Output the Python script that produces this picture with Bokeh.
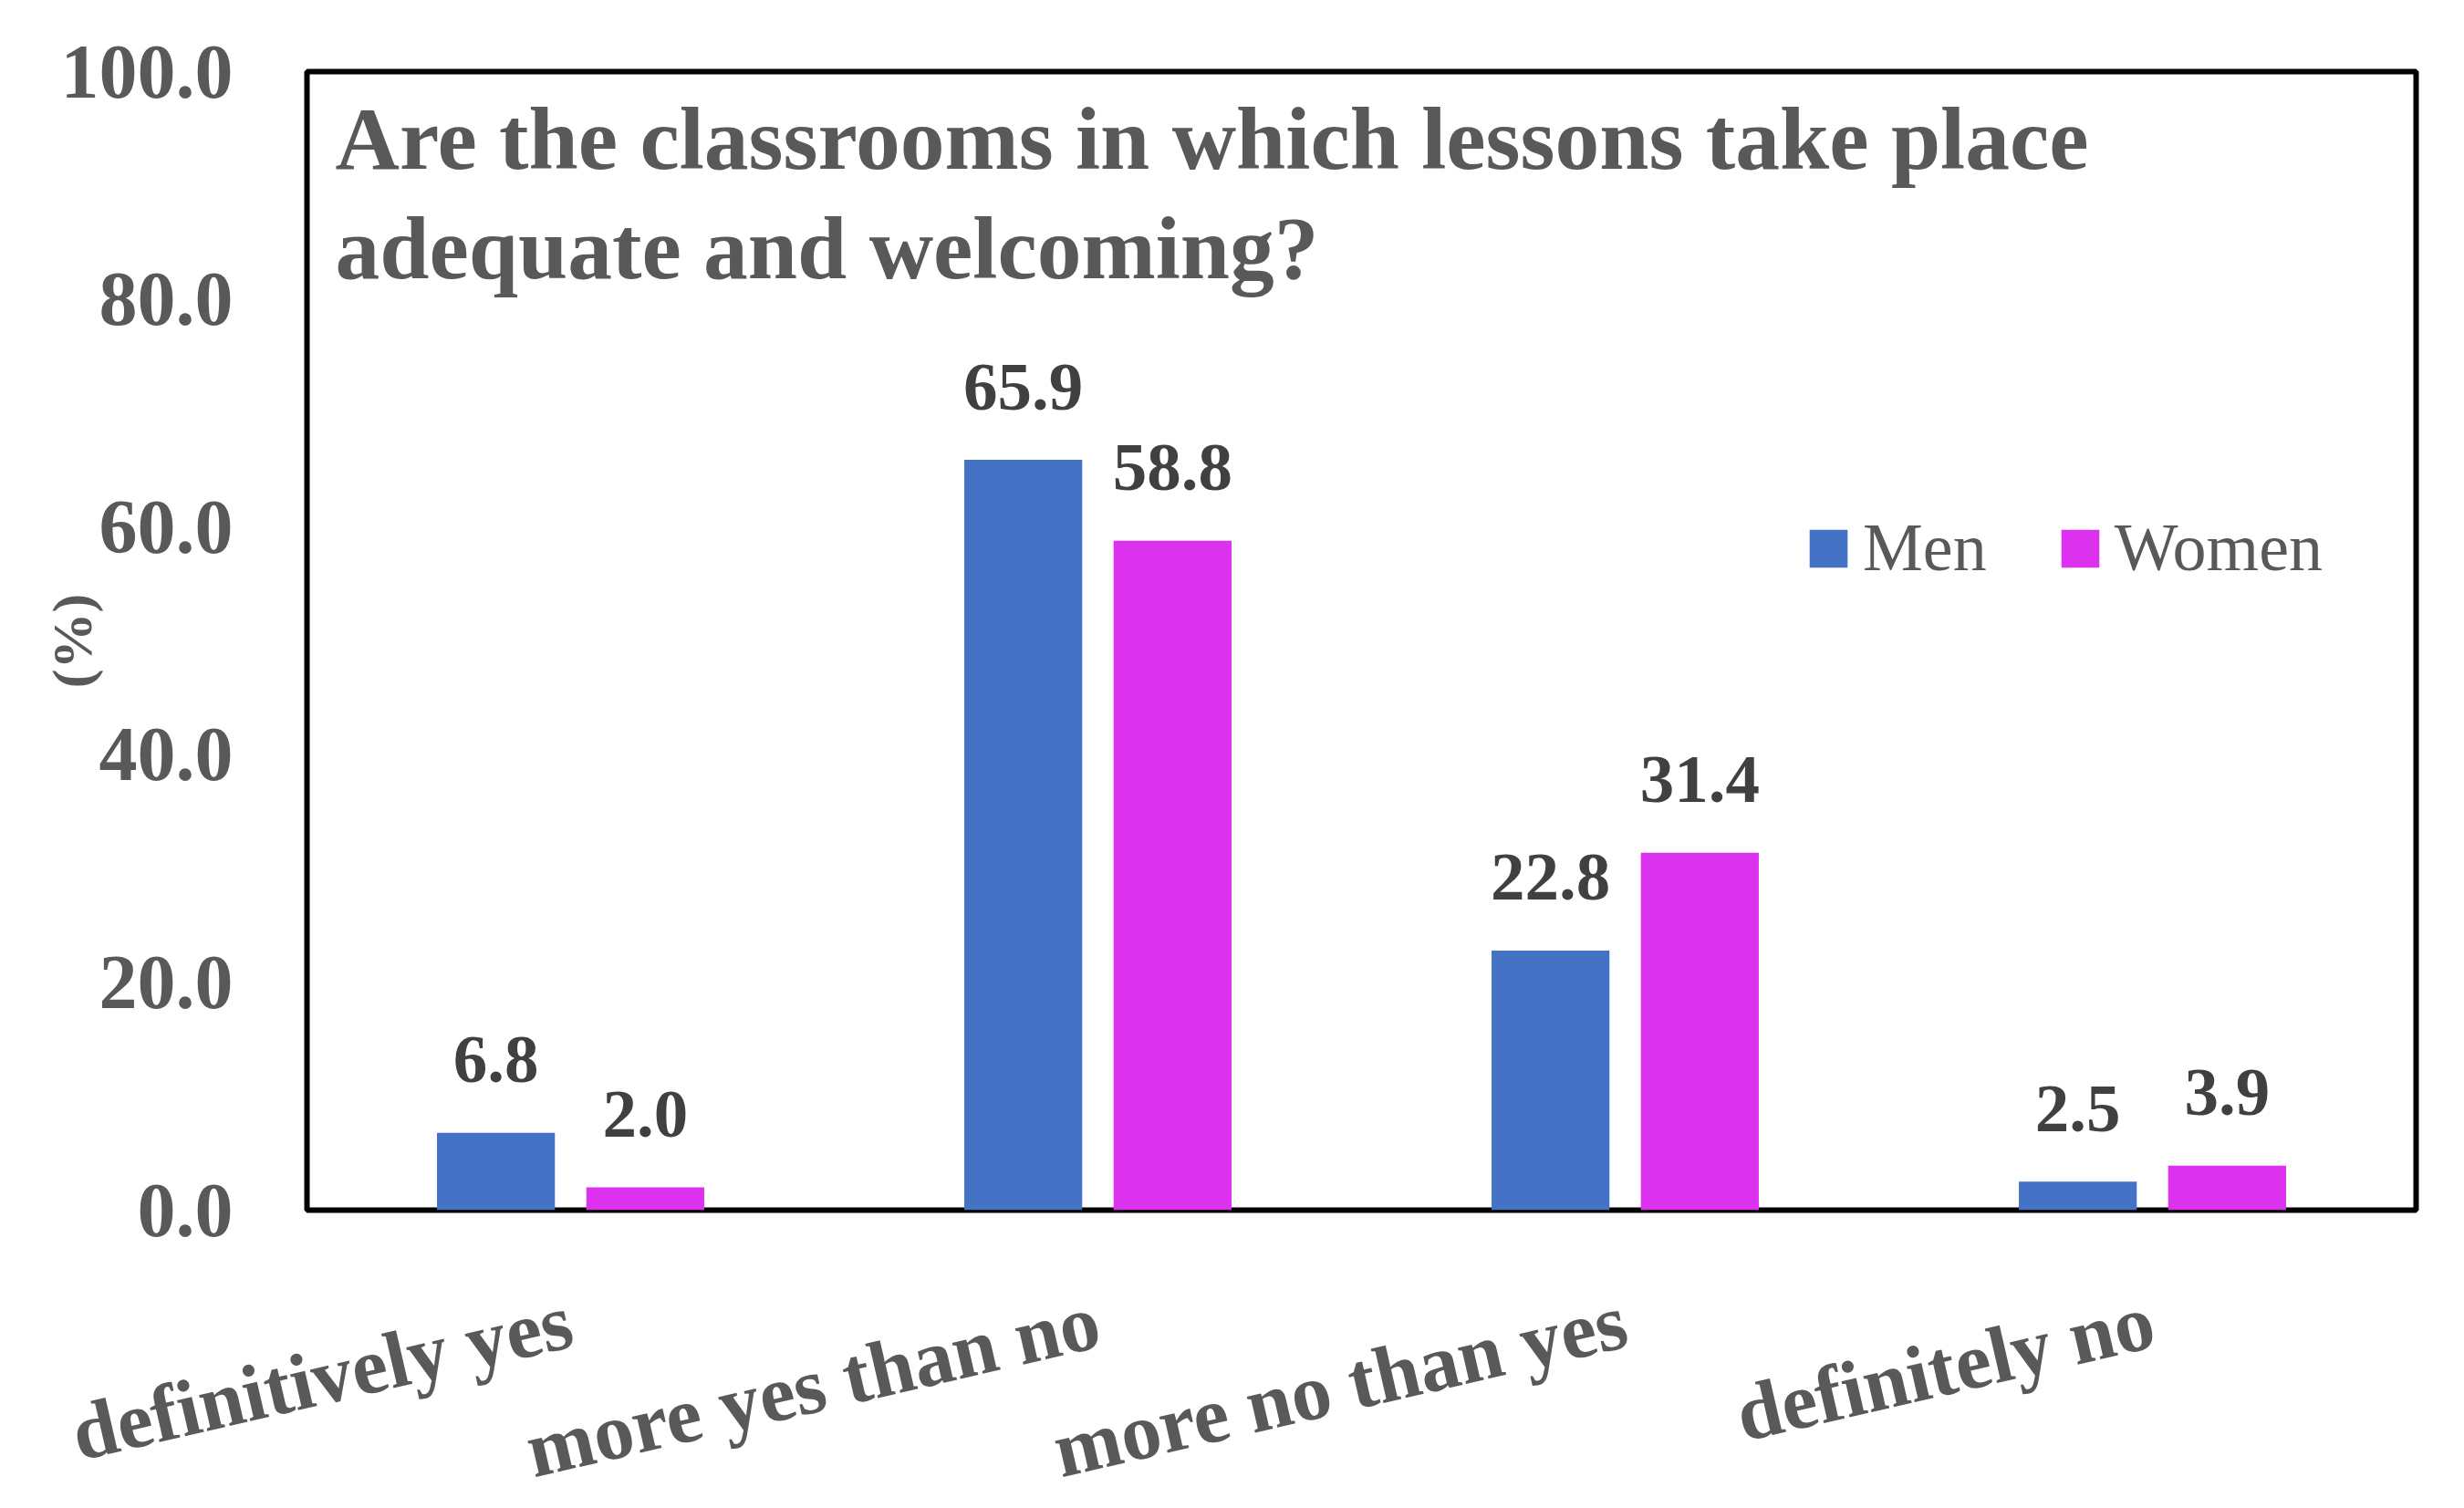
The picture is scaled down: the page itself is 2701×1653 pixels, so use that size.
import math
from bokeh.plotting import figure
from bokeh.models import (ColumnDataSource, FactorRange, Range1d, Label, Legend,
                          LegendItem, NumeralTickFormatter, FixedTicker)
from bokeh.transform import dodge
from bokeh.core.properties import value
from bokeh.embed import file_html
from bokeh.resources import INLINE

# ---- data ----
categories = ["definitively yes", "more yes than no", "more no than yes", "definitely no"]
men = [6.8, 65.9, 22.8, 2.5]
women = [2.0, 58.8, 31.4, 3.9]
series_names = ["Men", "Women"]
y_ticks = [0, 20, 40, 60, 80, 100]
title_line1 = "Are the classrooms in which lessons take place"
title_line2 = "adequate and welcoming?"
y_label = "(%)"

# ---- style ----
FONT = "Liberation Serif"
GRAY = "#595959"
DARK = "#404040"
BLUE = "#4472C4"
MAGENTA = "#DC31EE"
OFF = 0.1416
BW = 0.2236

src = ColumnDataSource(dict(
    cat=categories, men=men, women=women,
    men_lbl=[f"{v:.1f}" for v in men],
    women_lbl=[f"{v:.1f}" for v in women],
))

p = figure(x_range=FactorRange(*categories), y_range=Range1d(0, 100),
           width=2685, height=1637, output_backend="svg", toolbar_location=None,
           min_border_left=336, min_border_right=37, min_border_top=78,
           min_border_bottom=311, background_fill_color="white",
           border_fill_color="white")

r_men = p.vbar(x=dodge('cat', -OFF, range=p.x_range), top='men', width=BW,
               source=src, fill_color=BLUE, line_color=None)
r_women = p.vbar(x=dodge('cat', OFF, range=p.x_range), top='women', width=BW,
                 source=src, fill_color=MAGENTA, line_color=None)

for off, col in ((-OFF, 'men'), (OFF, 'women')):
    p.text(x=dodge('cat', off, range=p.x_range), y=col, text=col + '_lbl', source=src,
           text_align='center', text_baseline='alphabetic', y_offset=-80,
           text_font=value(FONT), text_font_style='bold', text_font_size='75px',
           text_color=DARK)

# title inside frame
for txt, yo in ((title_line1, -73), (title_line2, -193)):
    p.add_layout(Label(x=0, y=100, x_offset=31, y_offset=yo, text=txt,
                       text_align='left', text_baseline='alphabetic',
                       text_font=FONT, text_font_style='bold', text_font_size='97.5px',
                       text_color=GRAY))

legend = Legend(items=[LegendItem(label=series_names[0], renderers=[r_men]),
                       LegendItem(label=series_names[1], renderers=[r_women])],
                orientation='horizontal', location=(1642, 683),
                glyph_width=52, glyph_height=52, label_standoff=12, spacing=76,
                padding=0, margin=0, border_line_color=None, background_fill_alpha=0,
                label_text_font=FONT, label_text_font_size='74px', label_text_color=GRAY)
p.add_layout(legend)

# frame / grid
p.xgrid.grid_line_color = None
p.ygrid.grid_line_color = None
p.outline_line_color = "black"
p.outline_line_width = 6
p.outline_line_alpha = 1.0

# y axis
p.yaxis.ticker = FixedTicker(ticks=y_ticks)
p.yaxis.formatter = NumeralTickFormatter(format="0.0")
p.yaxis.major_label_text_font = FONT
p.yaxis.major_label_text_font_style = 'bold'
p.yaxis.major_label_text_font_size = '84px'
p.yaxis.major_label_text_color = GRAY
p.yaxis.major_label_standoff = 75
p.yaxis.major_tick_line_color = None
p.yaxis.minor_tick_line_color = None
p.yaxis.axis_line_color = None
p.yaxis.axis_label = y_label
p.yaxis.axis_label_text_font = FONT
p.yaxis.axis_label_text_font_style = 'bold'
p.yaxis.axis_label_text_font_size = '62px'
p.yaxis.axis_label_text_color = GRAY
p.yaxis.axis_label_standoff = -49

# x axis: rotated category labels; a blank axis label with negative standoff
# keeps the axis panel within the bottom border so the frame keeps its size
p.xaxis.major_label_orientation = math.radians(13)
p.xaxis.major_label_text_font = FONT
p.xaxis.major_label_text_font_style = 'bold'
p.xaxis.major_label_text_font_size = '88px'
p.xaxis.major_label_text_color = GRAY
p.xaxis.major_label_standoff = 114
p.xaxis.major_tick_line_color = None
p.xaxis.minor_tick_line_color = None
p.xaxis.axis_line_color = None
p.xaxis.axis_label = " "
p.xaxis.axis_label_text_font_size = '10px'
p.xaxis.axis_label_standoff = -110

open("out.html", "w").write(file_html(p, INLINE))
